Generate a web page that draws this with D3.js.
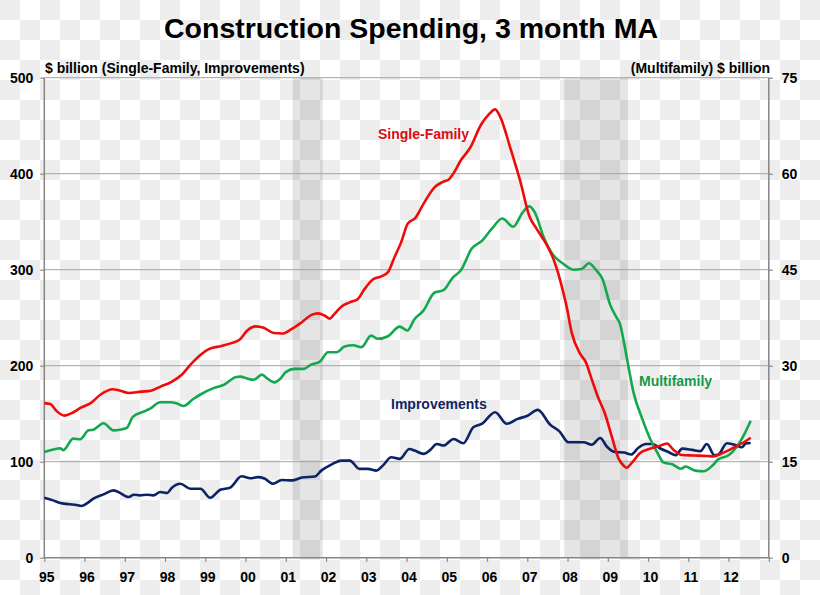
<!DOCTYPE html>
<html>
<head>
<meta charset="utf-8">
<script src="https://cdn.jsdelivr.net/npm/d3@7"></script>
<style>
  html, body { margin: 0; padding: 0; background: #fff; }
  svg { display: block; font-family: "Liberation Sans", Arial, sans-serif; }
</style>
</head>
<body>
<svg id="chart" width="820" height="595"></svg>
<script>
// ---- Data ----
const title = "Construction Spending, 3 month MA";
const leftAxisTitle = "$ billion (Single-Family, Improvements)";
const rightAxisTitle = "(Multifamily) $ billion";
const years = d3.range(1995, 2014);
const yearLabels = ["95","96","97","98","99","00","01","02","03","04","05","06","07","08","09","10","11","12",""];
const leftTicks = [0, 100, 200, 300, 400, 500];
const rightTicks = [0, 15, 30, 45, 60, 75];
const recessions = [[2001.17, 2001.92], [2007.92, 2009.5]];

// Single-Family, $ billion (left axis) [decimal year, value]
const singleFamily = [
  [1995.0,161],[1995.15,160],[1995.3,153],[1995.5,148],[1995.7,151],[1995.9,156],
  [1996.15,161],[1996.4,170],[1996.7,175.5],[1996.85,174.5],[1997.1,171.5],[1997.4,173],
  [1997.65,174],[1997.9,178.5],[1998.15,183],[1998.4,190],[1998.65,202],[1998.9,212],
  [1999.1,217.5],[1999.4,220.5],[1999.65,223.5],[1999.85,227],[2000.05,237],[2000.25,241],
  [2000.45,239.5],[2000.7,234],[2000.9,233.5],[2001.14,238],[2001.39,245],[2001.64,253],
  [2001.8,254.5],[2001.97,252],[2002.09,249],[2002.21,254],[2002.38,261.5],[2002.59,266],
  [2002.79,269.5],[2002.96,280],[2003.17,290],[2003.37,293],[2003.54,297.5],[2003.7,313],
  [2003.87,329],[2004.03,348],[2004.22,354],[2004.42,368.5],[2004.7,386],[2004.9,391.5],
  [2005.05,394],[2005.16,400],[2005.35,414],[2005.58,427],[2005.85,451],[2006.05,462],
  [2006.2,467],[2006.33,459],[2006.57,428],[2006.82,393],[2007.05,356],[2007.24,342],
  [2007.48,326],[2007.65,311],[2007.77,296],[2007.86,282],[2007.98,261],[2008.1,235],
  [2008.31,212.5],[2008.45,204],[2008.6,186],[2008.75,168],[2008.93,150],[2009.1,126],
  [2009.26,104],[2009.39,96],[2009.47,93.7],[2009.6,99],[2009.8,109],[2010.05,113.5],
  [2010.26,116],[2010.47,119],[2010.63,112.5],[2010.84,107],[2011.13,106.5],[2011.46,106],
  [2011.62,105.5],[2011.85,109],[2012.12,114.5],[2012.37,120],[2012.55,125]
];

// Multifamily, $ billion (right axis)
const multifamily = [
  [1995.0,16.5],[1995.22,16.9],[1995.4,17.1],[1995.47,16.8],[1995.72,18.6],[1995.89,18.5],
  [1996.1,19.9],[1996.22,20.0],[1996.47,21.0],[1996.72,19.9],[1996.88,20.0],[1997.05,20.3],
  [1997.2,22.0],[1997.46,22.8],[1997.63,23.3],[1997.88,24.3],[1998.13,24.3],[1998.3,24.1],
  [1998.46,23.7],[1998.7,24.8],[1998.88,25.5],[1999.2,26.5],[1999.46,27.0],[1999.75,28.2],
  [1999.87,28.3],[2000.04,28.0],[2000.2,27.8],[2000.41,28.6],[2000.54,28.0],[2000.72,27.4],
  [2000.87,28.0],[2001.0,29.0],[2001.22,29.5],[2001.43,29.5],[2001.64,30.2],[2001.84,30.6],
  [2002.05,32.1],[2002.26,32.1],[2002.46,33.0],[2002.67,33.2],[2002.88,32.9],[2003.12,34.7],
  [2003.29,34.2],[2003.54,34.6],[2003.83,36.1],[2004.02,35.5],[2004.2,37.3],[2004.42,38.6],
  [2004.69,41.4],[2004.92,41.8],[2005.14,43.7],[2005.35,44.9],[2005.62,48.3],[2005.87,49.5],
  [2006.12,51.4],[2006.38,53.0],[2006.65,51.7],[2006.88,53.9],[2007.05,54.9],[2007.19,53.9],
  [2007.4,50.2],[2007.62,47.5],[2007.9,45.9],[2008.15,45.0],[2008.35,45.1],[2008.53,46.0],
  [2008.7,45.0],[2008.87,43.5],[2009.06,39.5],[2009.22,37.5],[2009.3,36.6],[2009.39,34.0],
  [2009.5,30.3],[2009.64,25.8],[2009.85,21.8],[2010.05,18.6],[2010.25,16.2],[2010.38,14.9],
  [2010.6,14.6],[2010.82,13.9],[2010.93,14.25],[2011.17,13.6],[2011.38,13.5],[2011.6,14.4],
  [2011.75,15.4],[2012.0,16.0],[2012.2,17.3],[2012.4,19.4],[2012.55,21.4]
];

// Improvements, $ billion (left axis)
const improvements = [
  [1995.0,62.5],[1995.22,59.7],[1995.4,57],[1995.64,55.6],[1995.76,55.2],[1995.93,53.8],
  [1996.05,56.3],[1996.22,61.5],[1996.47,66],[1996.72,70.1],[1996.84,68.4],[1997.1,63.2],
  [1997.22,65.6],[1997.38,64.9],[1997.55,65.6],[1997.71,64.9],[1997.88,68.4],[1998.05,67.4],
  [1998.17,72.9],[1998.38,77.1],[1998.63,71.9],[1998.88,71.9],[1999.12,62.5],[1999.37,70.8],
  [1999.62,73],[1999.9,84.8],[2000.12,82.7],[2000.3,83.9],[2000.47,82.5],[2000.68,77],
  [2000.9,81],[2001.15,80.5],[2001.4,83.5],[2001.72,84.5],[2001.88,90.7],[2002.13,97],
  [2002.38,101.1],[2002.59,101.1],[2002.83,92.5],[2003.04,92.5],[2003.25,90.7],[2003.41,95.9],
  [2003.62,104.6],[2003.83,102.9],[2004.07,113.3],[2004.2,111.6],[2004.42,108.1],[2004.59,112.3],
  [2004.75,118.5],[2004.92,116.8],[2005.17,123.7],[2005.41,119.2],[2005.66,135.9],[2005.87,139.4],
  [2006.2,151.5],[2006.49,139.5],[2006.76,144.6],[2006.99,147.6],[2007.26,154],[2007.57,138.5],
  [2007.8,131.6],[2008.02,120.3],[2008.4,120.3],[2008.6,117.7],[2008.81,124.7],[2008.98,115.6],
  [2009.17,110.2],[2009.4,109.6],[2009.58,107.5],[2009.76,114.5],[2009.95,118.4],[2010.1,118.4],
  [2010.33,113.2],[2010.53,109.6],[2010.68,106.7],[2010.85,113.6],[2011.1,112.3],[2011.3,111],
  [2011.46,118.4],[2011.65,106.7],[2011.75,107.6],[2011.96,119.2],[2012.17,117.5],[2012.33,115],
  [2012.43,119],[2012.55,119.5]
];

// ---- Drawing ----
const W = 820, H = 595;
const svg = d3.select("#chart");
const plot = { left: 44.3, right: 768.8, top: 77.7, bottom: 557.7 };

// checkerboard background (transparent-image look of the reference)
const defs = svg.append("defs");
const pat = defs.append("pattern").attr("id", "checker")
  .attr("patternUnits", "userSpaceOnUse").attr("width", 40).attr("height", 40);
pat.append("rect").attr("width", 40).attr("height", 40).attr("fill", "#ffffff");
pat.append("rect").attr("x", 0).attr("y", 0).attr("width", 20).attr("height", 20).attr("fill", "#ededed");
pat.append("rect").attr("x", 20).attr("y", 20).attr("width", 20).attr("height", 20).attr("fill", "#ededed");
svg.append("rect").attr("width", W).attr("height", H).attr("fill", "url(#checker)");

const x = d3.scaleLinear().domain([1995, 2013]).range([plot.left, plot.right]);
const yL = d3.scaleLinear().domain([0, 500]).range([plot.bottom, plot.top]);
const yR = d3.scaleLinear().domain([0, 75]).range([plot.bottom, plot.top]);

// recession shading
svg.append("g").selectAll("rect").data(recessions).join("rect")
  .attr("x", d => x(d[0])).attr("width", d => x(d[1]) - x(d[0]))
  .attr("y", plot.top).attr("height", plot.bottom - plot.top)
  .attr("fill", "rgba(0,0,0,0.10)");

// gridlines
svg.append("g").selectAll("line").data(leftTicks.filter(v => v > 0)).join("line")
  .attr("x1", plot.left).attr("x2", plot.right)
  .attr("y1", d => yL(d)).attr("y2", d => yL(d))
  .attr("stroke", "#a3a3a3").attr("stroke-width", 1);

// axes
const axisColor = "#858585";
const gx = svg.append("g").attr("transform", `translate(0,${plot.bottom})`)
  .call(d3.axisBottom(x).tickValues(years).tickFormat((d, i) => yearLabels[i]).tickSize(4).tickPadding(10));
const gl = svg.append("g").attr("transform", `translate(${plot.left},0)`)
  .call(d3.axisLeft(yL).tickValues(leftTicks).tickFormat(d3.format("d")).tickSize(4).tickPadding(7));
const gr = svg.append("g").attr("transform", `translate(${plot.right},0)`)
  .call(d3.axisRight(yR).tickValues(rightTicks).tickFormat(d3.format("d")).tickSize(4).tickPadding(9));
[gx, gl, gr].forEach(g => {
  g.select(".domain").attr("stroke", axisColor).attr("stroke-width", 1.5);
  g.selectAll(".tick line").attr("stroke", axisColor).attr("stroke-width", 1.2);
  g.selectAll(".tick text").attr("fill", "#000").attr("font-size", 14).attr("font-weight", "bold")
    .attr("font-family", "'Liberation Sans', Arial, sans-serif");
});
gx.selectAll(".tick text").attr("dx", 2);
gl.select(".domain").attr("d", `M-0,${plot.bottom}V${plot.top}`);
gr.select(".domain").attr("d", `M0,${plot.bottom}V${plot.top}`);
gx.select(".domain").attr("d", `M${plot.left},0H${plot.right}`);

// lines
const lineL = d3.line().x(d => x(d[0])).y(d => yL(d[1])).curve(d3.curveMonotoneX);
const lineR = d3.line().x(d => x(d[0])).y(d => yR(d[1])).curve(d3.curveMonotoneX);
svg.append("path").datum(improvements).attr("d", lineL)
  .attr("fill", "none").attr("stroke", "#0c2465").attr("stroke-width", 2.6).attr("stroke-linejoin", "round");
svg.append("path").datum(multifamily).attr("d", lineR)
  .attr("fill", "none").attr("stroke", "#14a84e").attr("stroke-width", 2.6).attr("stroke-linejoin", "round");
svg.append("path").datum(singleFamily).attr("d", lineL)
  .attr("fill", "none").attr("stroke", "#f00a0a").attr("stroke-width", 2.6).attr("stroke-linejoin", "round");

// titles
svg.append("text").attr("x", 411).attr("y", 38).attr("text-anchor", "middle")
  .attr("font-size", 28.5).attr("font-weight", "bold").attr("fill", "#000").text(title);
svg.append("text").attr("x", 45).attr("y", 73).attr("font-size", 14).attr("font-weight", "bold")
  .attr("fill", "#000").text(leftAxisTitle);
svg.append("text").attr("x", 770).attr("y", 73).attr("text-anchor", "end").attr("font-size", 14)
  .attr("font-weight", "bold").attr("fill", "#000").text(rightAxisTitle);

// series labels
const labels = [
  { text: "Single-Family", x: 378, y: 139, color: "#d90e14" },
  { text: "Multifamily", x: 639, y: 386, color: "#13994a" },
  { text: "Improvements", x: 391, y: 409, color: "#0f2560" }
];
svg.append("g").selectAll("text").data(labels).join("text")
  .attr("x", d => d.x).attr("y", d => d.y).attr("font-size", 14).attr("font-weight", "bold")
  .attr("fill", d => d.color).text(d => d.text);
</script>
</body>
</html>
